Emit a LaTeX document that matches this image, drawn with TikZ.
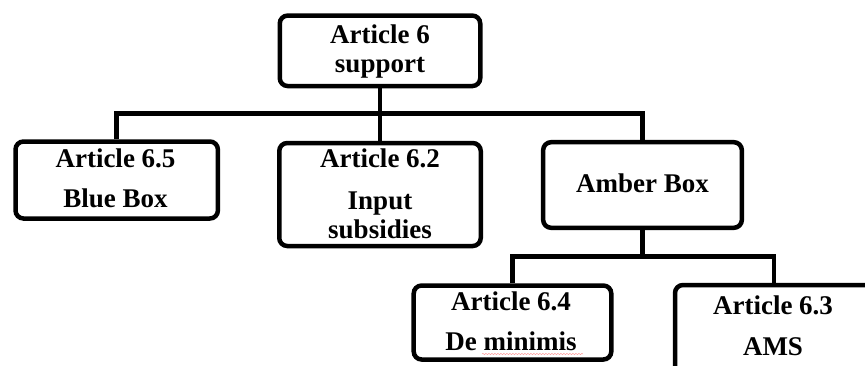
\documentclass[tikz,border=0pt]{standalone}
\usepackage{fontspec}
\setmainfont{Liberation Serif}
\usetikzlibrary{decorations.pathmorphing}
\tikzset{
  box/.style={draw, line width=4.5pt, rounded corners=8pt, inner sep=0pt},
  txt/.style={font=\bfseries\fontsize{27}{32}\selectfont, inner sep=0pt, anchor=base},
  link/.style={line width=4.5pt, line join=miter}
}
\begin{document}
\begin{tikzpicture}[x=1pt,y=-1pt]
\useasboundingbox (0,0) rectangle (865,365);
\clip (0,0) rectangle (865,365);
% boxes
\node[box, minimum width=200.5pt, minimum height=70.5pt] (top) at (380,50.8) {};
\node[box, minimum width=202.4pt, minimum height=77pt] (b65) at (116.7,180) {};
\node[box, minimum width=201.5pt, minimum height=103pt] (b62) at (380,194.5) {};
\node[box, minimum width=198.7pt, minimum height=85.6pt] (amber) at (642.5,185) {};
\node[box, minimum width=197.6pt, minimum height=74pt] (b64) at (512.5,322.5) {};
\node[box, minimum width=198pt, minimum height=140pt] (b63) at (774,355) {};
% bus coordinates
\coordinate (bus1) at (0,113.5);
\coordinate (bus2) at (0,256.5);
% connectors
\draw[link] (top.south) -- (b62.north);
\draw[link] (b65.north) |- (amber.north |- bus1) -- (amber.north);
\draw[link] (amber.south) -- (amber.south |- bus2);
\draw[link] (b64.north) |- (b63.north |- bus2) -- (b63.north);
% texts
\node[txt] (t6a) at (380,43.3) {Article 6};
\node[txt] (t6b) at (380,72.7) {support};
\node[txt] (t65a) at (115.5,167) {Article 6.5};
\node[txt] (t65b) at (115.5,207.3) {Blue Box};
\node[txt] (t62a) at (380,167.7) {Article 6.2};
\node[txt] (t62b) at (380,209) {Input};
\node[txt] (t62c) at (380,238.3) {subsidies};
\node[txt] (tam) at (642.5,192.3) {Amber Box};
\node[txt] (t64a) at (511,310.7) {Article 6.4};
\node[txt] (t64b) at (511,350.7) {De minimis};
\node[txt] (t63a) at (773,314) {Article 6.3};
\node[txt] (t63b) at (773,355) {AMS};
% spell-check squiggle under "minimis"
\draw[red!40, line width=0.5pt, decorate, decoration={snake, amplitude=0.6pt, segment length=3pt}]
  (482,354) -- (583,354);
\end{tikzpicture}
\end{document}
